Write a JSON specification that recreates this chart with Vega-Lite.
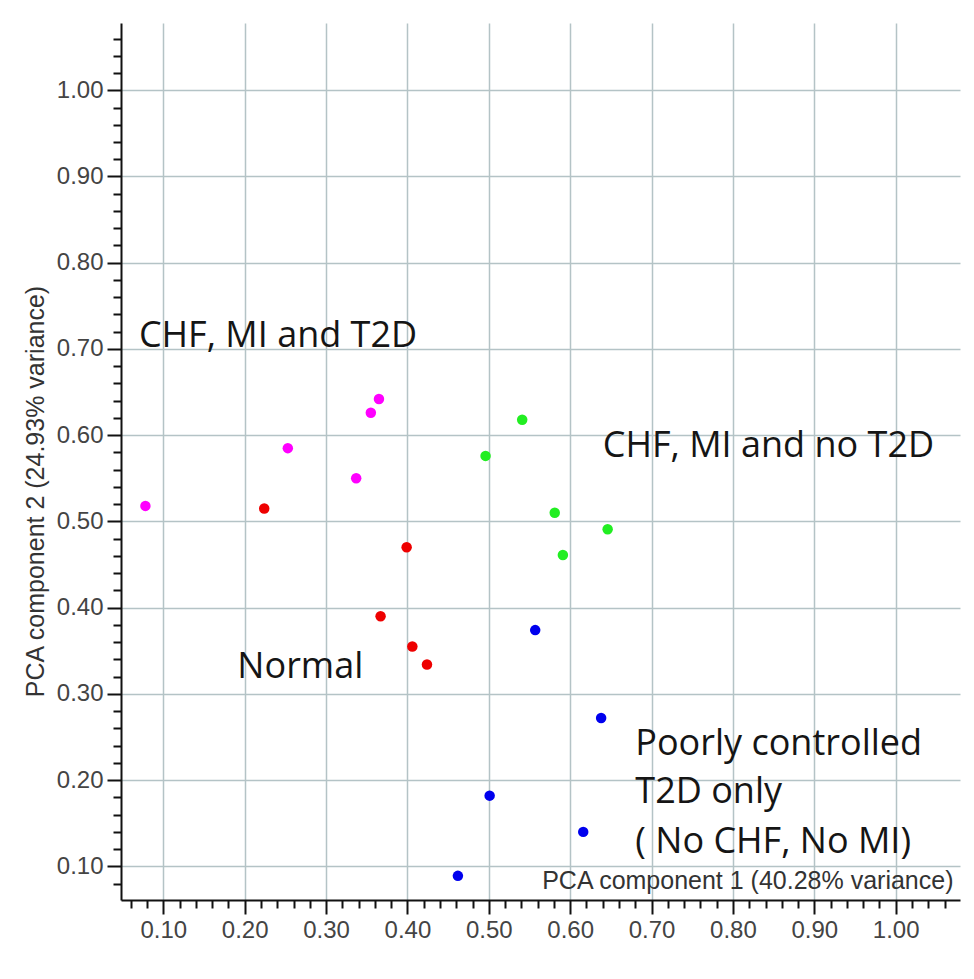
{
  "$schema": "https://vega.github.io/schema/vega-lite/v6.json",
  "width": 839,
  "height": 877,
  "autosize": {"type": "none"},
  "padding": {"left": 121, "top": 23, "right": 14, "bottom": 79},
  "background": "white",
  "config": {
    "view": {"stroke": null},
    "axis": {
      "labelFont": "Liberation Sans",
      "titleFont": "Liberation Sans",
      "domainColor": "#111",
      "tickColor": "#111",
      "domainWidth": 2,
      "tickWidth": 2
    }
  },
  "datasets": {
    "points": [
      {"x": 0.078, "y": 0.518, "group": "CHF, MI and T2D"},
      {"x": 0.253, "y": 0.585, "group": "CHF, MI and T2D"},
      {"x": 0.337, "y": 0.550, "group": "CHF, MI and T2D"},
      {"x": 0.355, "y": 0.626, "group": "CHF, MI and T2D"},
      {"x": 0.365, "y": 0.642, "group": "CHF, MI and T2D"},
      {"x": 0.224, "y": 0.515, "group": "Normal"},
      {"x": 0.399, "y": 0.470, "group": "Normal"},
      {"x": 0.367, "y": 0.390, "group": "Normal"},
      {"x": 0.406, "y": 0.355, "group": "Normal"},
      {"x": 0.424, "y": 0.334, "group": "Normal"},
      {"x": 0.541, "y": 0.618, "group": "CHF, MI and no T2D"},
      {"x": 0.496, "y": 0.576, "group": "CHF, MI and no T2D"},
      {"x": 0.581, "y": 0.510, "group": "CHF, MI and no T2D"},
      {"x": 0.646, "y": 0.491, "group": "CHF, MI and no T2D"},
      {"x": 0.591, "y": 0.461, "group": "CHF, MI and no T2D"},
      {"x": 0.557, "y": 0.374, "group": "Poorly controlled T2D only"},
      {"x": 0.638, "y": 0.272, "group": "Poorly controlled T2D only"},
      {"x": 0.501, "y": 0.182, "group": "Poorly controlled T2D only"},
      {"x": 0.616, "y": 0.140, "group": "Poorly controlled T2D only"},
      {"x": 0.462, "y": 0.089, "group": "Poorly controlled T2D only"}
    ],
    "labels": [
      {"x": 0.070, "y": 0.702, "label": "CHF, MI and T2D"},
      {"x": 0.640, "y": 0.575, "label": "CHF, MI and no T2D"},
      {"x": 0.191, "y": 0.318, "label": "Normal"},
      {"x": 0.680, "y": 0.229, "label": "Poorly controlled"},
      {"x": 0.680, "y": 0.174, "label": "T2D only"},
      {"x": 0.680, "y": 0.115, "label": "( No CHF, No MI)"}
    ]
  },
  "layer": [
    {
      "data": {"name": "points"},
      "mark": {"type": "point", "filled": true, "shape": "circle", "size": 110, "opacity": 1},
      "encoding": {
        "x": {
          "field": "x", "type": "quantitative",
          "scale": {"domain": [0.048, 1.079], "nice": false, "zero": false},
          "axis": {
            "orient": "bottom",
            "values": [0.1, 0.2, 0.3, 0.4, 0.5, 0.6, 0.7, 0.8, 0.9, 1.0],
            "format": ".2f",
            "grid": true, "gridColor": "#b4c3c6", "gridWidth": 1.5, "gridOpacity": 1,
            "tickSize": 14,
            "labelFontSize": 24, "labelColor": "#444", "labelPadding": 4,
            "title": "PCA component 1 (40.28% variance)",
            "titleFontSize": 25, "titleFontWeight": "normal", "titleColor": "#333",
            "titleAnchor": "end", "titleAlign": "right", "titleBaseline": "alphabetic",
            "titleX": 832, "titleY": -12
          }
        },
        "y": {
          "field": "y", "type": "quantitative",
          "scale": {"domain": [0.061, 1.078], "nice": false, "zero": false},
          "axis": {
            "orient": "left",
            "values": [0.1, 0.2, 0.3, 0.4, 0.5, 0.6, 0.7, 0.8, 0.9, 1.0],
            "format": ".2f",
            "grid": true, "gridColor": "#b4c3c6", "gridWidth": 1.5, "gridOpacity": 1,
            "tickSize": 14,
            "labelFontSize": 24, "labelColor": "#444", "labelPadding": 4,
            "title": "PCA component 2 (24.93% variance)",
            "titleFontSize": 25, "titleFontWeight": "normal", "titleColor": "#333",
            "titleAngle": -90, "titleAlign": "center", "titleBaseline": "alphabetic",
            "titleX": -78, "titleY": 468
          }
        },
        "color": {
          "field": "group", "type": "nominal",
          "scale": {
            "domain": ["CHF, MI and T2D", "Normal", "CHF, MI and no T2D", "Poorly controlled T2D only"],
            "range": ["#ff00ff", "#ee0000", "#22ee22", "#0000ee"]
          },
          "legend": null
        }
      }
    },
    {
      "data": {"name": "labels"},
      "mark": {"type": "text", "font": "Open Sans", "fontSize": 36, "align": "left", "baseline": "alphabetic", "color": "#151515"},
      "encoding": {
        "x": {
          "field": "x", "type": "quantitative",
          "axis": {
            "orient": "bottom",
            "values": [0.06, 0.08, 0.12, 0.14, 0.16, 0.18, 0.22, 0.24, 0.26, 0.28, 0.32, 0.34, 0.36, 0.38, 0.42, 0.44, 0.46, 0.48, 0.52, 0.54, 0.56, 0.58, 0.62, 0.64, 0.66, 0.68, 0.72, 0.74, 0.76, 0.78, 0.82, 0.84, 0.86, 0.88, 0.92, 0.94, 0.96, 0.98, 1.02, 1.04, 1.06],
            "grid": false, "labels": false, "domain": false, "tickSize": 8, "title": null
          }
        },
        "y": {
          "field": "y", "type": "quantitative",
          "axis": {
            "orient": "left",
            "values": [0.08, 0.12, 0.14, 0.16, 0.18, 0.22, 0.24, 0.26, 0.28, 0.32, 0.34, 0.36, 0.38, 0.42, 0.44, 0.46, 0.48, 0.52, 0.54, 0.56, 0.58, 0.62, 0.64, 0.66, 0.68, 0.72, 0.74, 0.76, 0.78, 0.82, 0.84, 0.86, 0.88, 0.92, 0.94, 0.96, 0.98, 1.02, 1.04, 1.06],
            "grid": false, "labels": false, "domain": false, "tickSize": 8, "title": null
          }
        },
        "text": {"field": "label", "type": "nominal"}
      }
    }
  ],
  "resolve": {"axis": {"x": "independent", "y": "independent"}}
}
